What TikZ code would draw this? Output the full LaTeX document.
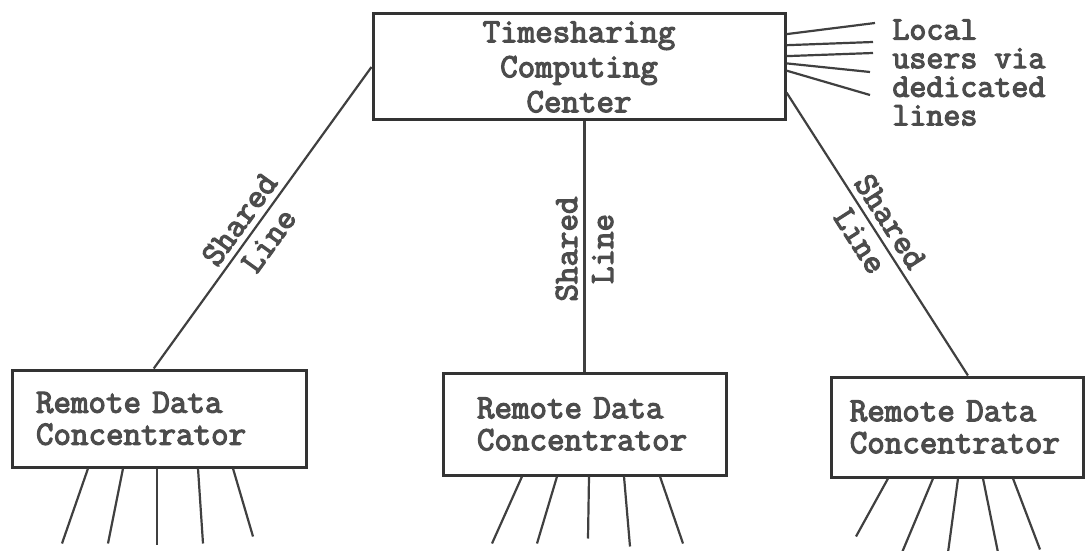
\documentclass[tikz,border=0pt]{standalone}
\usepackage{fontspec}
\newfontfamily\typer{Latin Modern Mono}[FakeBold=3.5]
\begin{document}
\begin{tikzpicture}[x=0.5pt,y=-0.5pt,
  every node/.style={font=\typer\fontsize{17}{16}\selectfont,text=black!70},
  box/.style={draw=black!80,line width=1.5pt},
  wire/.style={draw=black!75,line width=1.1pt},
  tag/.style={sloped,align=center,font=\typer\fontsize{17}{18}\selectfont}]
\useasboundingbox (0,0) rectangle (1086,551);
\node[box,align=center,minimum width=206pt,minimum height=53pt,font=\typer\fontsize{17}{17.5}\selectfont] (tsc) at (579,67) {Timesharing\\Computing\\Center};
\node[box,align=left,text width=123pt,inner xsep=12pt,minimum height=48.5pt] (rdc1) at (159,418.5) {Remote Data\\Concentrator};
\node[box,align=left,text width=107.5pt,inner xsep=17pt,minimum height=51pt] (rdc2) at (584.5,424) {Remote Data\\Concentrator};
\node[box,align=left,text width=107.2pt,inner xsep=9.4pt,minimum height=50pt] (rdc3) at (957,427) {Remote Data\\Concentrator};
\node[anchor=north west,inner sep=0pt,align=left,font=\typer\fontsize{16.5}{14.3}\selectfont] (loc) at (892,19) {Local\\users via\\dedicated\\lines};
\coordinate (u1) at (875,23);
\coordinate (u2) at (873,42);
\coordinate (u3) at (873,53);
\coordinate (u4) at (870,72);
\coordinate (u5) at (870,95);
\foreach \a/\u in {9.6/u1,6.6/u2,3.9/u3,1.4/u4,-1.4/u5}{\draw[wire] (tsc.\a)--(\u);}
\draw[wire] (rdc1.96) -- (tsc.west) node[tag,pos=0.46] {Shared\\Line};
\draw[wire] (rdc2.north) -- (rdc2.north |- tsc.south) node[tag,pos=0.49] {Shared\\Line};
\draw[wire] (rdc3.78) -- (tsc.-7) node[tag,pos=0.51] {Shared\\Line};
\foreach \sx/\dx/\dy in {-71/-26/75,-36/-15/75,-2/0/76,39/5/75,74/20/68}{\draw[wire] (rdc1.south) ++(\sx,0) -- ++(\dx,\dy);}
\foreach \sx/\dx/\dy in {-62.5/-30/67,-27.5/-20/67,4.5/-1/62,39.5/6/70,75.5/23/67}{\draw[wire] (rdc2.south) ++(\sx,0) -- ++(\dx,\dy);}
\foreach \sx/\dx/\dy in {-69/-32/58,-24/-31/74,1/-10/74,26/15/74,56/27/71}{\draw[wire] (rdc3.south) ++(\sx,0) -- ++(\dx,\dy);}
\end{tikzpicture}
\end{document}
